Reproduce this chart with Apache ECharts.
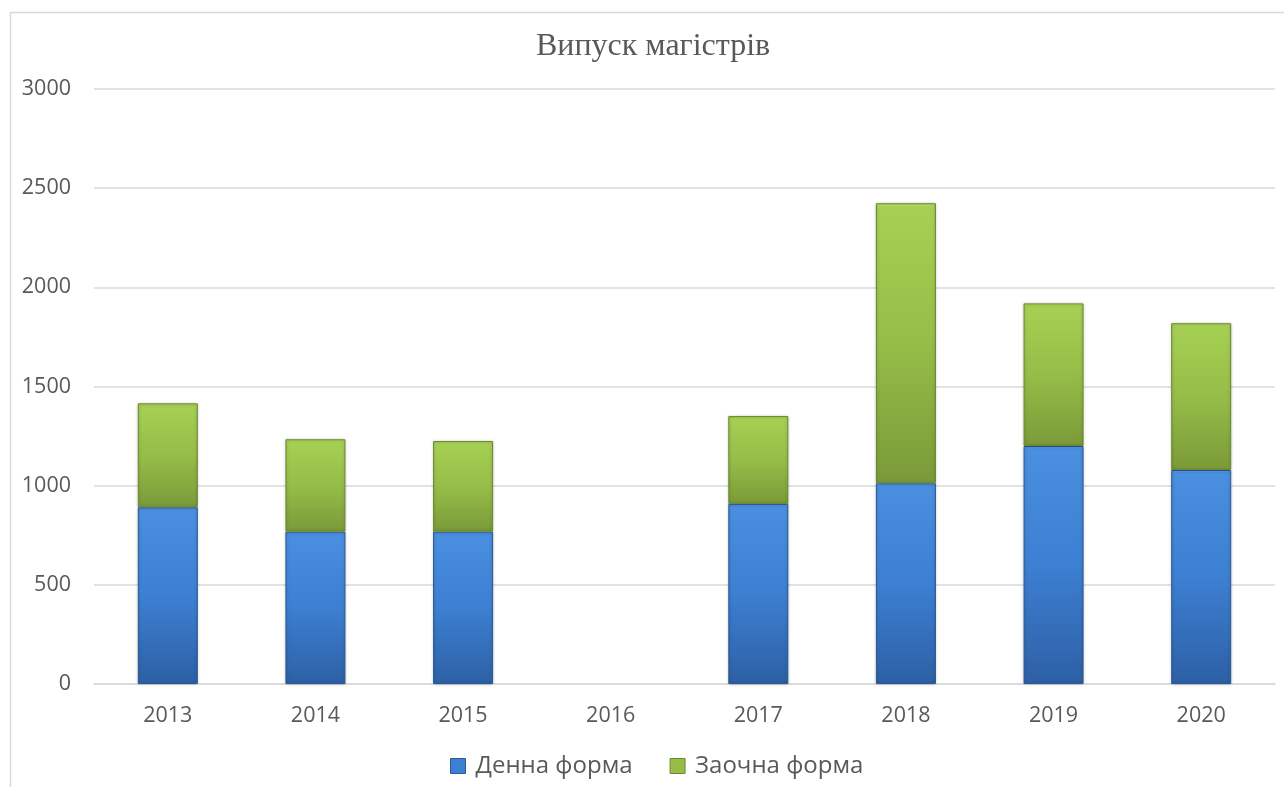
<!DOCTYPE html>
<html><head><meta charset="utf-8">
<script src="https://cdn.jsdelivr.net/npm/echarts@6/dist/echarts.min.js"></script>
<style>html,body{margin:0;padding:0;background:#fff}#c{width:1284px;height:787px}</style>
</head><body><div id="c"></div>
<script>
const categories = ['2013','2014','2015','2016','2017','2018','2019','2020'];
const dennaForma = [891, 768, 768, null, 908, 1012, 1200, 1079];
const zaochnaForma = [524, 466, 457, null, 443, 1412, 719, 740];
const seriesNames = ['Денна форма', 'Заочна форма'];
const titleText = 'Випуск магістрів';

const chart = echarts.init(document.getElementById('c'));
function grad(stops){
  return {type:'linear',x:0,y:0,x2:0,y2:1,colorStops:stops.map(s=>({offset:s[0],color:s[1]}))};
}
const blue = grad([[0,'#66aaf5'],[0.012,'#4a8fe0'],[0.5,'#3d7fd2'],[1,'#2d60a5']]);
const green = grad([[0,'#bfe66a'],[0.015,'#a6d053'],[0.5,'#96bd48'],[1,'#7a9a38']]);
chart.setOption({
  animation:false,
  title:{text:titleText,left:531,top:26,textStyle:{fontFamily:'Liberation Serif',fontSize:32,fontWeight:'normal',color:'#595959'}},
  graphic:[
    {type:'line',shape:{x1:10.5,y1:12,x2:10.5,y2:787},style:{stroke:'#d9d9d9',lineWidth:1.5}},
    {type:'line',shape:{x1:10,y1:12.5,x2:1284,y2:12.5},style:{stroke:'#d9d9d9',lineWidth:1.5}}
  ],
  legend:{bottom:4,left:445,itemGap:37,itemWidth:15,itemHeight:15,
    textStyle:{fontFamily:'Open Sans',fontSize:24,color:'#595959',padding:[0,0,0,5]},
    data:[{name:seriesNames[0],icon:'rect',itemStyle:{color:'#3d7fd2',borderColor:'#2a5a95',borderWidth:1}},
          {name:seriesNames[1],icon:'rect',itemStyle:{color:'#96bd48',borderColor:'#6b8a30',borderWidth:1}}]},
  grid:{left:94,right:9,top:89,bottom:103},
  xAxis:{type:'category',data:categories,
    axisLine:{lineStyle:{color:'#d9d9d9',width:1.5}},axisTick:{show:false},
    axisLabel:{fontFamily:'Open Sans',fontSize:21.5,color:'#595959',margin:21}},
  yAxis:{type:'value',min:0,max:3000,interval:500,
    axisLine:{show:false},axisTick:{show:false},
    splitLine:{lineStyle:{color:'#d9d9d9',width:1.5}},
    axisLabel:{fontFamily:'Open Sans',fontSize:21.5,color:'#595959',margin:23,formatter:v=>String(v)}},
  series:[
    {name:seriesNames[0],type:'bar',stack:'a',data:dennaForma,barWidth:60,
      itemStyle:{color:blue,borderColor:'#2a5a95',borderWidth:1,shadowColor:'rgba(0,0,0,0.25)',shadowBlur:3}},
    {name:seriesNames[1],type:'bar',stack:'a',data:zaochnaForma,barWidth:60,
      itemStyle:{color:green,borderColor:'#6b8a30',borderWidth:1,shadowColor:'rgba(0,0,0,0.25)',shadowBlur:3}}
  ]
});
</script></body></html>
